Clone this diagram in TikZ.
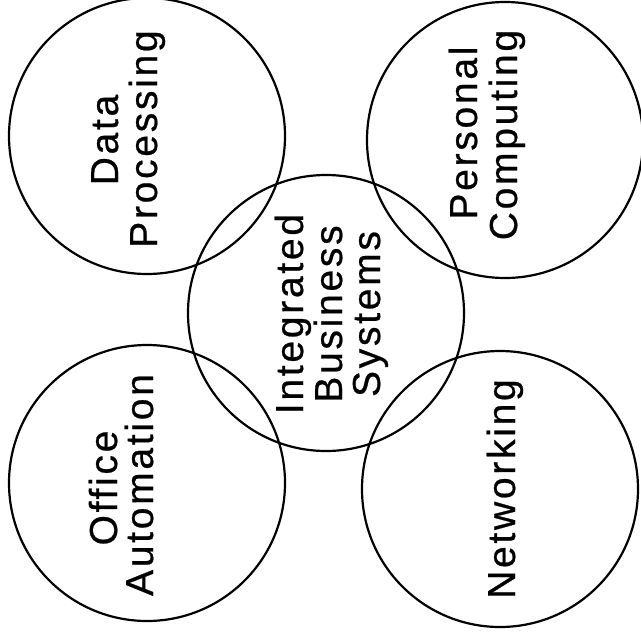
\documentclass[tikz,border=0pt]{standalone}
\usepackage{fontspec}
\setmainfont{Liberation Sans}[LetterSpace=7,FakeBold=0.6]
\begin{document}
\begin{tikzpicture}[x=1pt,y=-1pt,
  ring/.style={circle,draw=black,line width=2.2pt,minimum size=276pt,inner sep=0pt},
  lbl/.style={rotate=90,anchor=base,inner sep=0pt,font=\fontsize{39}{39}\selectfont}]
\useasboundingbox[fill=white] (0,0) rectangle (641,633);
\node[ring] (dp) at (147,136) {};
\node[ring] (pc) at (505,140) {};
\node[ring] (ibs) at (326,313) {};
\node[ring] (oa) at (147,483) {};
\node[ring] (nw) at (500,489) {};
\node[lbl] (dp1) at (118,140) {Data};
\node[lbl] (dp2) at (157,139) {Processing};
\node[lbl] (pc1) at (477,133) {Personal};
\node[lbl] (pc2) at (517,135) {Computing};
\node[lbl] (ib1) at (303,314) {Integrated};
\node[lbl] (ib2) at (342,314) {Business};
\node[lbl] (ib3) at (380,314) {Systems};
\node[lbl] (oa1) at (117,488) {Office};
\node[lbl] (oa2) at (153,485) {Automation};
\node[lbl] (nw1) at (515,489) {Networking};
\end{tikzpicture}
\end{document}
